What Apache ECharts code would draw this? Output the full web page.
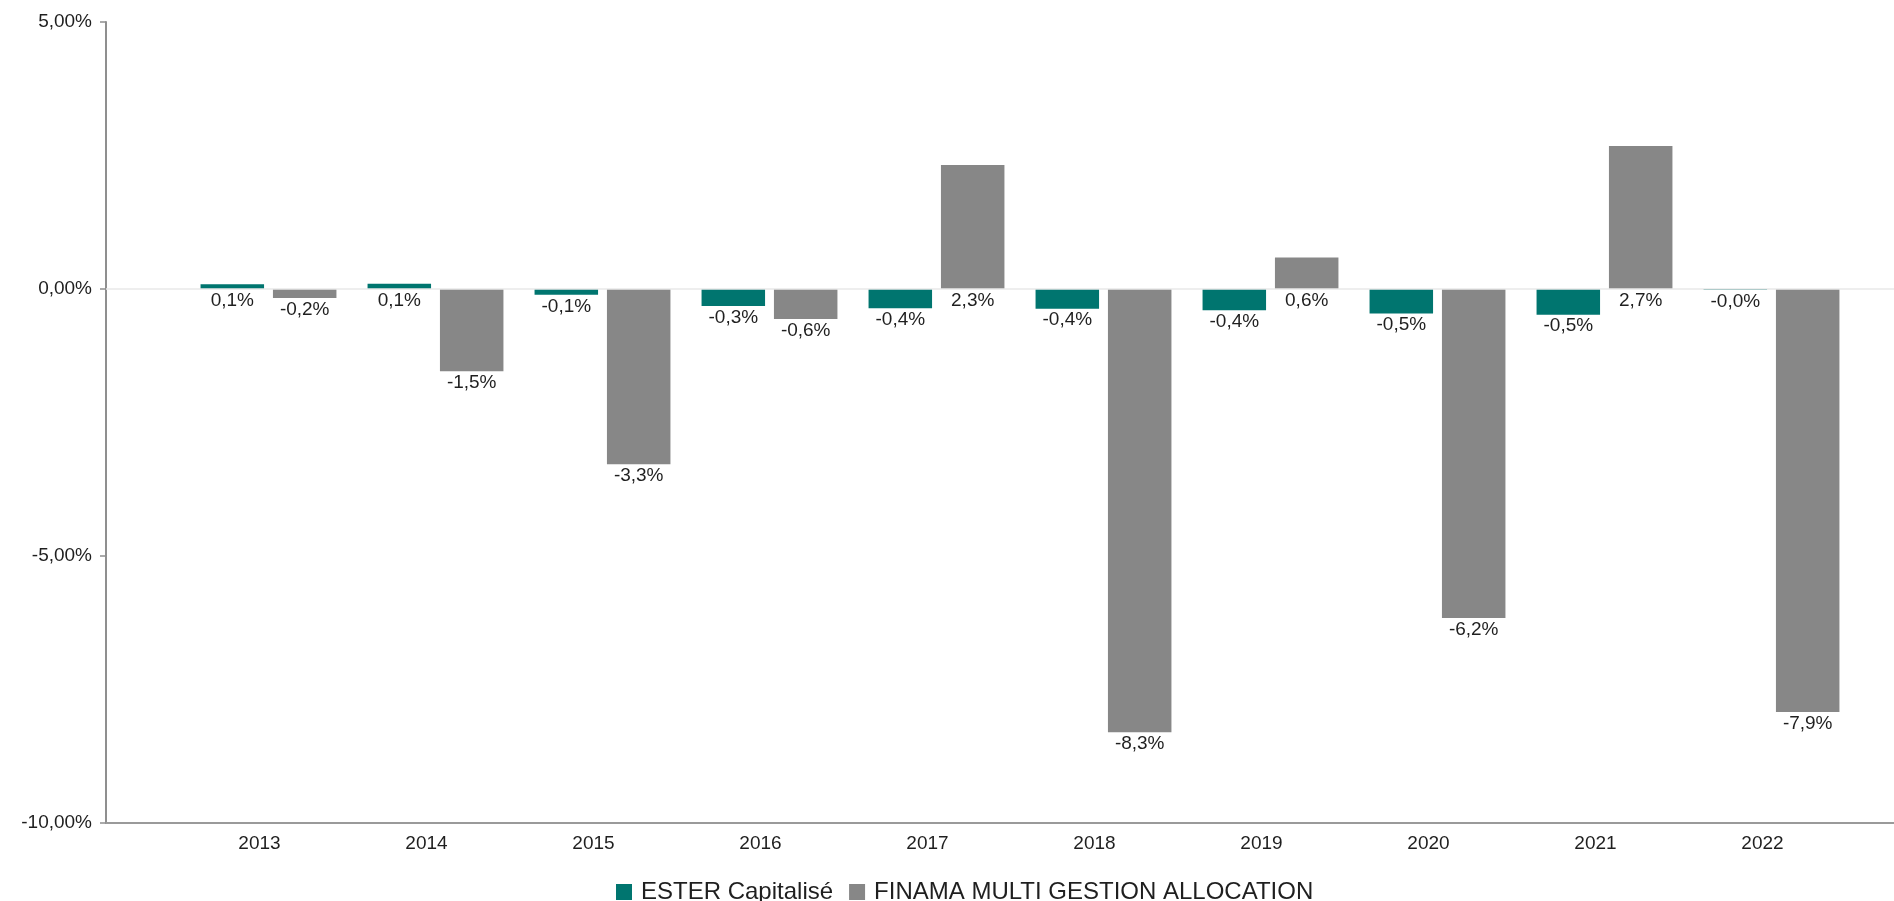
<!DOCTYPE html>
<html>
<head>
<meta charset="utf-8">
<script src="https://cdn.jsdelivr.net/npm/echarts@6/dist/echarts.min.js"></script>
<style>html,body{margin:0;padding:0;background:#fff}#c{width:1894px;height:901px}</style>
</head>
<body>
<div id="c"></div>
<script>
const years = ['2013','2014','2015','2016','2017','2018','2019','2020','2021','2022'];
const esterValues = [0.09, 0.10, -0.11, -0.32, -0.36, -0.37, -0.40, -0.46, -0.48, -0.02];
const finamaValues = [-0.17, -1.54, -3.28, -0.56, 2.32, -8.30, 0.59, -6.16, 2.68, -7.92];
const seriesNames = ['ESTER Capitalisé', 'FINAMA MULTI GESTION ALLOCATION'];
const yTicks = { min: -10, max: 5, interval: 5 };

const FONT = 'Liberation Sans, Arial, sans-serif';
const TXT = '#1f1f1f';
const fmtPct1 = v => v.toFixed(1).replace('.', ',') + '%';
const fmtPct2 = v => v.toFixed(2).replace('.', ',') + '%';

const chart = echarts.init(document.getElementById('c'), null, { renderer: 'canvas' });
chart.setOption({
  animation: false,
  backgroundColor: '#fff',
  grid: [
    { left: 106, right: 0, top: 22, bottom: 78 },
    { left: 185, right: 39, top: 22, bottom: 78 },
    { left: 176, right: 48, top: 22, bottom: 78 }
  ],
  legend: {
    data: seriesNames,
    left: 616,
    top: 880,
    padding: 0,
    icon: 'rect',
    itemWidth: 16,
    itemHeight: 16,
    itemGap: 16,
    textStyle: { fontFamily: FONT, fontSize: 24, color: TXT, padding: [0, 0, 0, 4] }
  },
  xAxis: [
    { gridIndex: 0, type: 'category', data: [''],
      axisLine: { onZero: false, lineStyle: { color: '#9a9a9a', width: 2 } },
      axisTick: { show: false }, axisLabel: { show: false } },
    { gridIndex: 1, type: 'category', data: years, show: false },
    { gridIndex: 2, type: 'category', data: years,
      axisLine: { show: false }, axisTick: { show: false },
      axisLabel: { margin: 11, fontFamily: FONT, fontSize: 19, color: TXT } }
  ],
  yAxis: [
    { gridIndex: 0, type: 'value', min: yTicks.min, max: yTicks.max, interval: yTicks.interval,
      axisLine: { show: true, lineStyle: { color: '#8f8f8f', width: 2 } },
      axisTick: { show: true, length: 6, lineStyle: { color: '#8f8f8f', width: 1.5 } },
      splitLine: { show: false },
      axisLabel: { margin: 14, fontFamily: FONT, fontSize: 19, color: TXT, formatter: fmtPct2 } },
    { gridIndex: 1, type: 'value', min: yTicks.min, max: yTicks.max, show: false, splitLine: { show: false } },
    { gridIndex: 2, type: 'value', min: yTicks.min, max: yTicks.max, show: false, splitLine: { show: false } }
  ],
  series: [
    { name: 'zero', type: 'line', xAxisIndex: 0, yAxisIndex: 0, data: [null],
      symbol: 'none', silent: true, z: 1,
      markLine: { silent: true, symbol: ['none', 'none'], label: { show: false },
        lineStyle: { color: '#e9e9e9', width: 1.5, type: 'solid' },
        data: [{ yAxis: 0 }] } },
    { name: seriesNames[0], type: 'bar', xAxisIndex: 1, yAxisIndex: 1,
      data: esterValues, barWidth: 63.5, barGap: '14%', z: 3,
      itemStyle: { color: '#00756f' },
      label: { show: true, position: 'bottom', distance: 2, fontFamily: FONT, fontSize: 19, color: TXT,
        formatter: p => fmtPct1(p.value) } },
    { name: seriesNames[1], type: 'bar', xAxisIndex: 1, yAxisIndex: 1,
      data: finamaValues, barWidth: 63.5, barGap: '14%', z: 3,
      itemStyle: { color: '#878787' },
      label: { show: true, position: 'bottom', distance: 2, fontFamily: FONT, fontSize: 19, color: TXT,
        formatter: p => fmtPct1(p.value) } }
  ]
});
</script>
</body>
</html>
